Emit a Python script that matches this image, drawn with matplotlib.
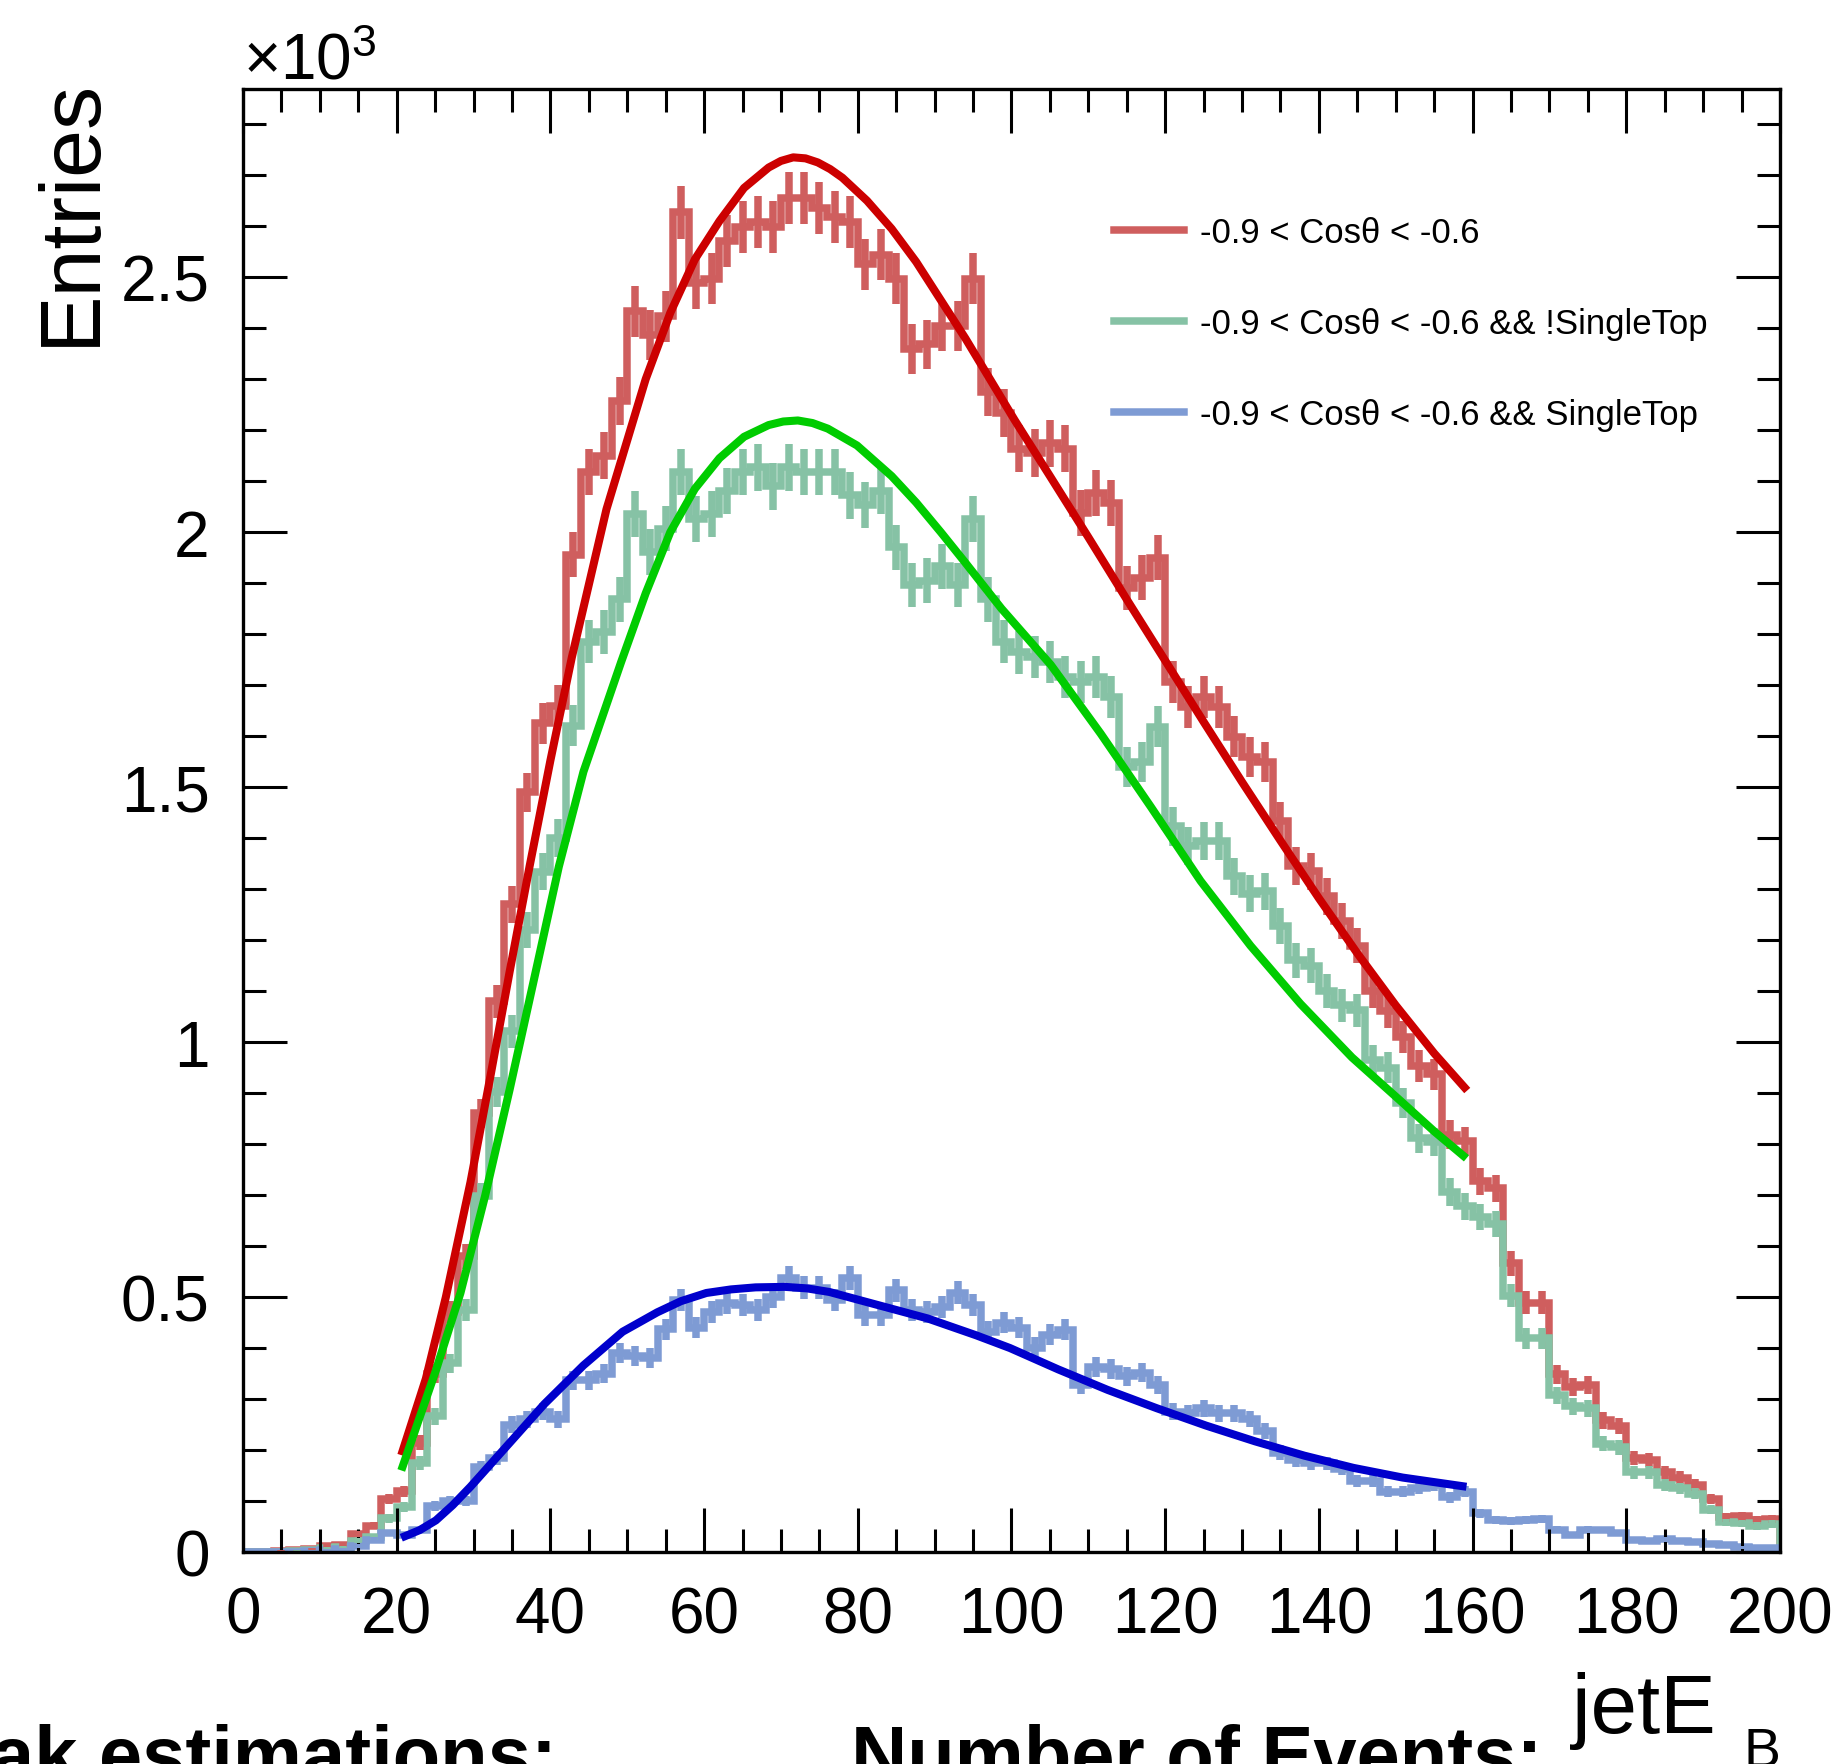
import numpy as np
import matplotlib.pyplot as plt
from matplotlib.lines import Line2D
from matplotlib.ticker import MultipleLocator, FuncFormatter

plt.rcParams['font.family'] = ['Liberation Sans', 'DejaVu Sans']
plt.rcParams['mathtext.fontset'] = 'custom'
plt.rcParams['mathtext.rm'] = 'Liberation Sans'
plt.rcParams['mathtext.it'] = 'Liberation Sans:italic'
plt.rcParams['mathtext.bf'] = 'Liberation Sans:bold'

# jetE_B histogram, 100 bins of width 2 between 0 and 200
bin_edges = np.arange(0, 202, 2)

# -0.9 < cos(theta) < -0.6 (all events)
all_counts = [1, 1, 2, 3, 5, 12, 14, 35, 52, 104,
              119, 214, 350, 470, 580, 860, 1080, 1270, 1490, 1625,
              1660, 1956, 2118, 2150, 2257, 2433, 2386, 2423, 2627, 2488,
              2497, 2571, 2599, 2608, 2599, 2655, 2655, 2636, 2618, 2608,
              2525, 2544, 2497, 2359, 2368, 2405, 2405, 2497, 2275, 2233,
              2164, 2155, 2174, 2164, 2037, 2077, 2057, 1891, 1911, 1950,
              1706, 1657, 1676, 1657, 1599, 1559, 1550, 1433, 1345, 1335,
              1286, 1238, 1189, 1100, 1060, 1010, 953, 937, 818, 806,
              727, 713, 566, 489, 489, 349, 324, 328, 258, 247,
              184, 181, 156, 146, 132, 104, 68, 70, 62, 65]

# ... && !SingleTop
bkg_counts = [1, 1, 1, 2, 3, 8, 9, 22, 30, 66,
              88, 175, 266, 370, 475, 698, 902, 1021, 1220, 1334,
              1400, 1620, 1785, 1804, 1868, 2035, 1961, 2007, 2118, 2026,
              2035, 2081, 2118, 2127, 2090, 2127, 2118, 2118, 2118, 2072,
              2053, 2081, 1970, 1896, 1905, 1933, 1896, 2026, 1868, 1785,
              1764, 1755, 1745, 1716, 1706, 1716, 1677, 1540, 1550, 1618,
              1423, 1384, 1394, 1394, 1325, 1291, 1296, 1228, 1160, 1150,
              1101, 1072, 1062, 964, 950, 881, 811, 804, 706, 678,
              657, 643, 503, 419, 419, 307, 286, 282, 212, 205,
              156, 156, 132, 125, 114, 83, 58, 56, 51, 55]

# ... && SingleTop
top_counts = [1, 1, 1, 1, 2, 4, 5, 12, 24, 38,
              33, 43, 90, 100, 100, 166, 185, 250, 260, 275,
              260, 337, 337, 350, 390, 385, 380, 437, 494, 440,
              470, 489, 484, 475, 500, 537, 518, 518, 494, 537,
              465, 465, 513, 475, 470, 480, 508, 484, 432, 450,
              440, 401, 426, 436, 328, 363, 359, 345, 352, 328,
              275, 272, 282, 272, 272, 261, 237, 195, 181, 174,
              174, 163, 139, 139, 118, 118, 125, 132, 107, 118,
              76, 62, 60, 62, 65, 44, 34, 44, 43, 37,
              23, 21, 25, 21, 20, 16, 13, 9, 7, 7]

# fitted curves
fit_all_x = [20.6, 23.8, 26.4, 29.6, 32.1, 34.7, 37.3, 40, 42.8, 47.3, 52.4, 55.6,
             58.8, 62, 65.2, 68.4, 70, 71.6, 73.2, 74.8, 76.4, 78, 81.2, 84.4,
             87.6, 90.8, 94, 97.2, 100.4, 105, 110, 115, 120, 125, 130, 135,
             140, 145, 150, 155, 159.3]
fit_all_y = [190, 340, 500, 725, 925, 1138, 1345, 1552, 1755, 2045, 2300, 2430,
             2535, 2610, 2675, 2715, 2728, 2735, 2733, 2725, 2712, 2695, 2650, 2595,
             2530, 2455, 2380, 2300, 2220, 2110, 1990, 1868, 1748, 1628, 1510, 1395,
             1282, 1174, 1072, 978, 905]

fit_bkg_x = [20.6, 25.1, 28.3, 31.5, 34.7, 37.9, 41.1, 44.3, 49.2, 52.4, 55.6,
             58.8, 62, 65.2, 68.4, 70.3, 72.2, 74.1, 76.1, 79.9, 84.4, 87.6, 90.8,
             94, 98.7, 105.1, 111.6, 118.1, 124.6, 131.1, 137.6, 144.3, 150.9,
             155, 159.2]
fit_bkg_y = [160, 356, 508, 698, 907, 1125, 1344, 1530, 1745, 1880, 2000,
             2085, 2145, 2187, 2210, 2217, 2219, 2214, 2203, 2170, 2110, 2058, 2000,
             1940, 1850, 1740, 1605, 1462, 1316, 1189, 1075, 970, 881,
             825, 772]

fit_top_x = [20.6, 23, 25.1, 27.3, 29.6, 34.7, 39.2, 44.3, 49.4, 53.9, 57, 60.3,
             63.5, 66.7, 70.5, 73.4, 76.3, 82.7, 89.1, 95.4, 99.8, 106.1, 112.5,
             118.9, 125.3, 131.7, 138.1, 144.5, 150.9, 159.2]
fit_top_y = [28, 43, 62, 92, 128, 214, 290, 366, 432, 470, 492, 508,
             515, 519, 520, 517, 510, 484, 458, 425, 400, 358, 318,
             282, 248, 217, 189, 165, 146, 128]

labels = ['-0.9 < Cos\u03b8 < -0.6',
          '-0.9 < Cos\u03b8 < -0.6 && !SingleTop',
          '-0.9 < Cos\u03b8 < -0.6 && SingleTop']
hist_colors = ['#cf5e5e', '#86c2a5', '#7e9bd4']
fit_colors = ['#cc0000', '#00cc00', '#0000cc']

fig = plt.figure(figsize=(18.49, 17.65), dpi=100)
ax = fig.add_axes([0.1314, 0.1201, 0.8313, 0.8289])

centers = 0.5 * (bin_edges[:-1] + bin_edges[1:])
for counts, col in zip([all_counts, bkg_counts, top_counts], hist_colors):
    counts = np.array(counts, dtype=float)
    err = np.sqrt(counts)
    ax.stairs(counts, bin_edges, color=col, lw=5.4)
    ax.vlines(centers, counts - err, counts + err, color=col, lw=5.4)

for fx, fy, col in zip([fit_all_x, fit_bkg_x, fit_top_x],
                       [fit_all_y, fit_bkg_y, fit_top_y], fit_colors):
    ax.plot(fx, fy, color=col, lw=5.8, solid_capstyle='butt',
            solid_joinstyle='round')

ax.set_xlim(0, 200)
ax.set_ylim(0, 2869)

ax.xaxis.set_major_locator(MultipleLocator(20))
ax.xaxis.set_minor_locator(MultipleLocator(5))
ax.yaxis.set_major_locator(MultipleLocator(500))
ax.yaxis.set_minor_locator(MultipleLocator(100))
ax.yaxis.set_major_formatter(FuncFormatter(lambda v, p: '%g' % (v / 1000.0)))

ax.tick_params(which='both', direction='in', top=True, right=True, width=2.2,
               labelsize=46, pad=24)
ax.tick_params(which='major', length=32)
ax.tick_params(which='minor', length=16.5)
for sp in ax.spines.values():
    sp.set_linewidth(2.4)

ax.set_ylabel('Entries', fontsize=62, loc='top')
ax.yaxis.set_label_coords(-0.0855, 1.008)

# x title: "jetE" with a low-set subscript B, as ROOT draws it
ax.set_xlabel('jetE', fontsize=60, loc='right', va='baseline')
ax.xaxis.set_label_coords(0.958, -0.123)
ax.text(1.0, -0.1465, 'B', transform=ax.transAxes, fontsize=40,
        ha='right', va='baseline')

fig.text(243 / 1849, 1 - 80 / 1765, r'$\times$10$^{3}$', fontsize=46,
         ha='left', va='baseline')

handles = [Line2D([], [], color=c, lw=5.4) for c in hist_colors]
ax.legend(handles, labels, loc='upper left', bbox_to_anchor=(0.567, 0.913),
          frameon=False, fontsize=25, handlelength=2.0, handletextpad=0.45,
          labelspacing=1.67, borderpad=0, borderaxespad=0)

# summary text at the bottom, partly outside the canvas
fig.text(-104 / 1849, -0.009, 'Peak estimations:', fontsize=56,
         fontweight='bold', ha='left', va='baseline')
fig.text(851 / 1849, -0.009, 'Number of Events:', fontsize=56,
         fontweight='bold', ha='left', va='baseline')

fig.savefig('out.png', dpi=100)
